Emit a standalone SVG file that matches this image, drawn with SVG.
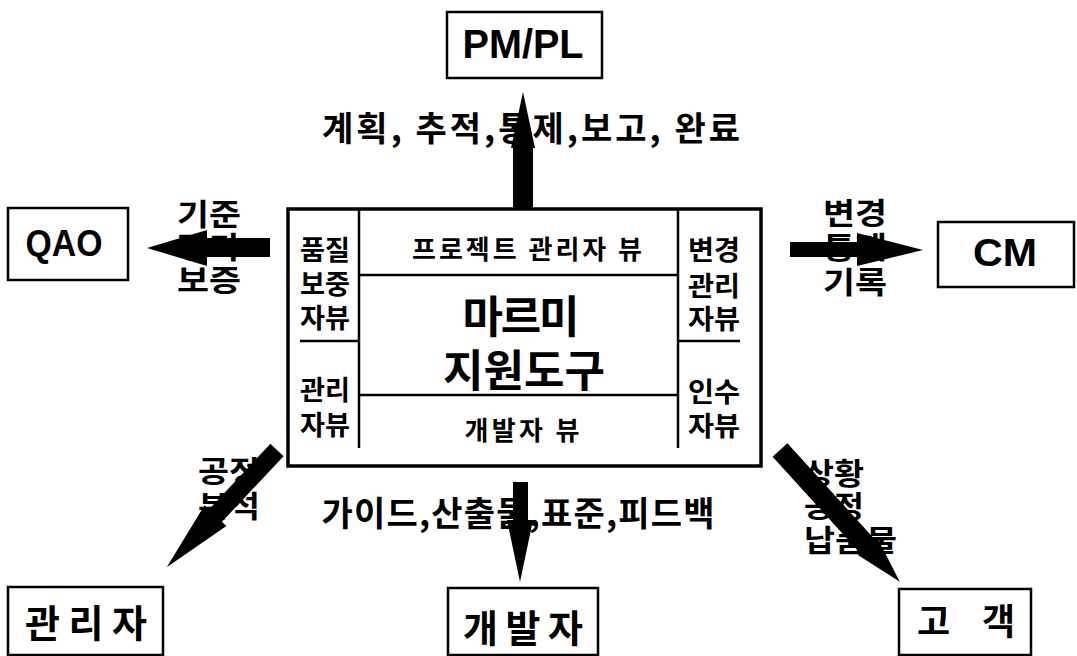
<svg xmlns="http://www.w3.org/2000/svg" width="1077" height="656" viewBox="0 0 1077 656">
<style>
.box{fill:#fff;stroke:#000;stroke-width:2.5}
.ln{stroke:#000;stroke-width:2.5;fill:none}
.kr{font-family:"Noto Sans CJK KR","Noto Sans",sans-serif;font-weight:700;fill:#000;text-anchor:middle;dominant-baseline:central}
.en{font-family:"Liberation Sans",Arial,sans-serif;font-weight:700;fill:#000;text-anchor:middle;dominant-baseline:central}
.side{font-size:27px}
.lab{font-size:30px}
.arr{fill:#000}
</style>
<rect width="1077" height="656" fill="#fff"/>

<g id="main">
<rect x="288" y="209" width="473" height="257" fill="#fff" stroke="#000" stroke-width="3.5"/>
<line class="ln" x1="359" y1="209" x2="359" y2="448"/>
<line class="ln" x1="678" y1="209" x2="678" y2="448"/>
<line class="ln" x1="359" y1="275" x2="678" y2="275"/>
<line class="ln" x1="359" y1="395" x2="678" y2="395"/>
<line class="ln" x1="300" y1="341" x2="359" y2="341"/>
<line class="ln" x1="678" y1="341" x2="740" y2="341"/>
<text class="kr side" x="325" y="248" textLength="50" lengthAdjust="spacingAndGlyphs">품질</text>
<text class="kr side" x="325" y="282" textLength="50" lengthAdjust="spacingAndGlyphs">보중</text>
<text class="kr side" x="325" y="316" textLength="50" lengthAdjust="spacingAndGlyphs">자뷰</text>
<text class="kr side" x="325" y="388" textLength="50" lengthAdjust="spacingAndGlyphs">관리</text>
<text class="kr side" x="325" y="423" textLength="50" lengthAdjust="spacingAndGlyphs">자뷰</text>
<text class="kr side" x="714" y="248" textLength="52" lengthAdjust="spacingAndGlyphs">변경</text>
<text class="kr side" x="714" y="284" textLength="52" lengthAdjust="spacingAndGlyphs">관리</text>
<text class="kr side" x="714" y="317" textLength="52" lengthAdjust="spacingAndGlyphs">자뷰</text>
<text class="kr side" x="714" y="390" textLength="52" lengthAdjust="spacingAndGlyphs">인수</text>
<text class="kr side" x="714" y="424" textLength="52" lengthAdjust="spacingAndGlyphs">자뷰</text>
<text class="kr" x="527" y="247" font-size="26" textLength="230" lengthAdjust="spacing">프로젝트 관리자 뷰</text>
<text class="kr" x="521" y="314" font-size="44" font-weight="900" textLength="117" lengthAdjust="spacing">마르미</text>
<text class="kr" x="524" y="368" font-size="44" font-weight="900" textLength="162" lengthAdjust="spacing">지원도구</text>
<text class="kr" x="522" y="428" font-size="26" textLength="115" lengthAdjust="spacing">개발자 뷰</text>
</g>

<g id="pmpl">
<rect class="box" x="447" y="12" width="155" height="66"/>
<text class="en" x="523" y="44" font-size="40" textLength="121" lengthAdjust="spacingAndGlyphs">PM/PL</text>
</g>
<g id="qao">
<rect class="box" x="8" y="208" width="120" height="72"/>
<text class="en" x="64" y="243" font-size="36" textLength="77" lengthAdjust="spacingAndGlyphs">QAO</text>
</g>
<g id="cm">
<rect class="box" x="938" y="222" width="136" height="65"/>
<text class="en" x="1005" y="253" font-size="38" textLength="64" lengthAdjust="spacingAndGlyphs">CM</text>
</g>
<g id="manager">
<rect class="box" x="8" y="587" width="155" height="68"/>
<text class="kr" x="86" y="620" font-size="38" textLength="122" lengthAdjust="spacing">관리자</text>
</g>
<g id="developer">
<rect class="box" x="448" y="588" width="150" height="67"/>
<text class="kr" x="523" y="625" font-size="38" textLength="120" lengthAdjust="spacing">개발자</text>
</g>
<g id="customer">
<rect class="box" x="899" y="589" width="132" height="66"/>
<text class="kr" x="966" y="619" font-size="36" textLength="98" lengthAdjust="spacing">고 객</text>
</g>

<g id="labels">
<text class="kr" x="531" y="126" font-size="34" textLength="418" lengthAdjust="spacing">계획, 추적,통제,보고, 완료</text>
<text class="kr" x="518" y="511" font-size="34" textLength="393" lengthAdjust="spacing">가이드,산출물,표준,피드백</text>
<text class="kr lab" x="209" y="212" textLength="64" lengthAdjust="spacingAndGlyphs">기준</text>
<text class="kr lab" x="209" y="245" textLength="64" lengthAdjust="spacingAndGlyphs">평가</text>
<text class="kr lab" x="209" y="278" textLength="64" lengthAdjust="spacingAndGlyphs">보증</text>
<text class="kr lab" x="855" y="211" textLength="64" lengthAdjust="spacingAndGlyphs">변경</text>
<text class="kr lab" x="855" y="245" textLength="64" lengthAdjust="spacingAndGlyphs">통제</text>
<text class="kr lab" x="855" y="280" textLength="64" lengthAdjust="spacingAndGlyphs">기록</text>
<text class="kr lab" x="229" y="469" textLength="62" lengthAdjust="spacingAndGlyphs">공정</text>
<text class="kr lab" x="229" y="504" textLength="62" lengthAdjust="spacingAndGlyphs">분석</text>
<text class="kr lab" x="804" y="471" style="text-anchor:start" textLength="60" lengthAdjust="spacingAndGlyphs">상황</text>
<text class="kr lab" x="804" y="504" style="text-anchor:start" textLength="60" lengthAdjust="spacingAndGlyphs">공정</text>
<text class="kr lab" x="804" y="538" style="text-anchor:start" textLength="93" lengthAdjust="spacingAndGlyphs">납품물</text>
</g>

<g id="connectors">
<polygon class="arr" points="523,92 535,148 533,148 533,208 513,208 513,148 511,148"/>
<polygon class="arr" points="147,248 207,230 207,238 270,238 270,257 207,257 207,266"/>
<polygon class="arr" points="790,242 857,242 857,233 923,250 857,266 857,257 790,257"/>
<polygon class="arr" points="513,482 528,482 528,520 533,520 520,582 507,520 513,520"/>
<polygon class="arr" transform="translate(277,450) rotate(133.2)" points="0,-9 90,-9 90,-15 161,0 90,15 90,9 0,9"/>
<polygon class="arr" transform="translate(780,450) rotate(47.7)" points="0,-10 130,-10 130,-13 178,0 130,13 130,10 0,10"/>
</g>
</svg>
